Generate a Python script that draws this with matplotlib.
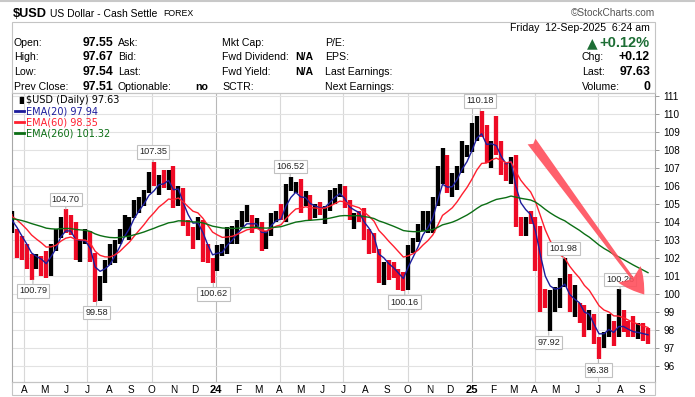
import numpy as np
import pandas as pd
import matplotlib
matplotlib.use("Agg")
import matplotlib.pyplot as plt
from matplotlib.patches import Rectangle

# weekly bars (week ending Friday)
week_end = pd.date_range("2023-03-17", "2025-09-12", freq="W-FRI")

high = [
    # 2023
    104.6, 103.6, 103.2, 102.8, 102.2, 102.2, 102.1, 102.4, 102.8, 103.6, 104.3, 104.70,
    104.4, 104.0, 103.0, 103.6, 103.5, 102.3, 101.0, 101.9, 102.8, 103.0, 103.6, 104.4,
    104.3, 105.2, 105.4, 105.8, 106.8, 107.35, 106.6, 106.9, 106.9, 107.1, 106.0, 105.9,
    104.1, 103.7, 104.3, 104.1, 102.8, 102.0,
    # 2024
    102.7, 102.8, 103.7, 103.8, 104.1, 104.6, 104.95, 104.4, 104.2, 104.0, 103.5, 104.5,
    104.6, 105.0, 106.1, 106.52, 106.2, 106.4, 105.7, 105.5, 105.0, 105.1, 104.9, 105.8,
    105.9, 106.1, 106.0, 105.2, 104.5, 104.6, 104.8, 103.6, 103.4, 102.5, 101.8, 101.9,
    101.8, 101.4, 101.2, 102.7, 103.1, 103.9, 104.6, 104.6, 105.4, 107.1, 108.1, 107.7,
    106.7, 107.1, 108.5, 108.3,
    # 2025
    109.5, 109.9, 110.18, 109.4, 108.5, 109.9, 108.5, 107.3, 107.6, 107.7, 104.3, 104.3,
    104.6, 104.3, 103.8, 100.3, 100.2, 100.4, 100.9, 101.98, 101.1, 100.5, 99.5, 99.4,
    99.1, 98.9, 97.6, 97.9, 98.9, 98.5, 100.26, 99.1, 98.5, 98.8, 98.4, 98.4, 98.1,
]
low = [
    # 2023
    103.4, 102.0, 101.9, 101.4, 100.79, 101.4, 101.0, 100.9, 101.0, 102.4, 103.1, 103.4,
    103.3, 101.9, 101.8, 102.8, 101.8, 99.58, 99.6, 100.6, 101.6, 101.7, 102.8, 103.2,
    103.0, 104.2, 104.5, 104.9, 105.6, 106.0, 105.5, 105.9, 105.8, 104.8, 104.9, 103.8,
    103.2, 102.5, 103.0, 101.8, 101.7, 100.62,
    # 2024
    101.3, 102.1, 102.2, 102.8, 102.8, 103.7, 104.0, 103.4, 103.6, 102.4, 102.5, 103.2,
    104.0, 104.1, 104.0, 105.7, 105.6, 104.5, 104.9, 104.1, 104.2, 104.4, 103.9, 104.6,
    105.0, 105.4, 104.8, 104.1, 103.6, 104.0, 103.0, 102.2, 102.3, 100.6, 100.5, 100.8,
    100.9, 100.2, 100.16, 100.2, 102.3, 102.9, 103.5, 103.4, 103.4, 104.9, 106.1, 105.6,
    105.4, 105.8, 106.7, 107.6,
    # 2025
    107.9, 108.5, 108.7, 107.3, 107.0, 107.7, 106.6, 106.3, 106.1, 103.7, 103.2, 103.2,
    103.9, 101.3, 99.0, 99.2, 97.92, 99.0, 99.2, 100.4, 99.0, 98.7, 98.4, 97.6,
    98.0, 97.2, 96.38, 97.0, 97.6, 97.1, 97.6, 97.9, 97.6, 97.6, 97.5, 97.4, 97.2,
]
close = [
    # 2023
    103.8, 103.1, 102.5, 102.1, 101.5, 101.8, 101.7, 101.3, 102.7, 103.2, 104.2, 104.0,
    103.5, 102.3, 102.9, 102.9, 101.9, 99.9, 100.9, 101.6, 102.0, 102.8, 103.4, 104.1,
    104.3, 105.1, 105.3, 105.6, 106.2, 106.1, 106.6, 106.2, 106.6, 105.0, 105.9, 103.9,
    103.4, 103.2, 104.0, 102.6, 101.7, 101.3,
    # 2024
    102.4, 102.4, 103.3, 103.4, 103.9, 104.1, 104.3, 103.9, 103.9, 102.7, 103.4, 104.4,
    104.5, 104.3, 106.0, 106.1, 106.1, 105.0, 105.3, 104.5, 104.7, 104.6, 104.9, 105.5,
    105.8, 105.9, 104.9, 104.1, 104.4, 104.3, 103.2, 103.1, 102.5, 100.7, 101.7, 101.2,
    101.1, 100.7, 100.4, 102.5, 102.9, 103.5, 104.3, 104.3, 105.0, 106.7, 107.5, 105.7,
    106.0, 107.0, 107.8, 108.0,
    # 2025
    108.9, 109.7, 109.3, 107.4, 108.4, 108.1, 106.7, 106.6, 107.6, 103.8, 103.7, 104.1,
    104.0, 102.1, 100.1, 99.2, 99.6, 100.0, 100.4, 100.9, 99.1, 99.3, 99.2, 98.2,
    98.7, 97.4, 97.0, 97.8, 98.4, 97.6, 98.7, 98.2, 97.8, 97.7, 97.8, 97.7, 97.63,
]

ema_periods = [20, 60, 260]
ema_start = [104.3, 104.4, 104.2]      # EMA levels at the left edge of the chart
ema_last = ["97.94", "98.35", "101.32"]
ema_colors = ["#1c1c9c", "#ff1f2f", "#0b6e14"]

# labelled highs / lows
label_dates = ["2023-04-14", "2023-05-31", "2023-07-14", "2023-10-03", "2023-12-28",
               "2024-04-16", "2024-09-27", "2025-01-13", "2025-04-21", "2025-05-12",
               "2025-07-01", "2025-08-01"]
label_values = [100.79, 104.70, 99.58, 107.35, 100.62, 106.52, 100.16, 110.18,
                97.92, 101.98, 96.38, 100.26]
label_above = [False, True, False, True, False, True, False, True, False, True, False, True]

# quote panel
quote_left = [("Open:", "97.55"), ("High:", "97.67"), ("Low:", "97.54"), ("Prev Close:", "97.51")]
quote_mid = ["Ask:", "Bid:", "Last:", "Optionable:"]
quote_fund = [("Mkt Cap:", ""), ("Fwd Dividend:", "N/A"), ("Fwd Yield:", "N/A"), ("SCTR:", "")]
quote_earn = ["P/E:", "EPS:", "Last Earnings:", "Next Earnings:"]
quote_right = [("Chg:", "+0.12"), ("Last:", "97.63"), ("Volume:", "0")]

W, H = 695, 397
fig = plt.figure(figsize=(W / 100, H / 100), dpi=100)
fig.patch.set_facecolor("white")
SANS = "Liberation Sans"


def txt(x, y, s, **kw):
    kw.setdefault("va", "center")
    kw.setdefault("family", SANS)
    kw.setdefault("fontsize", 7.6)
    return fig.text(x / W, 1 - y / H, s, **kw)


# header
fig.add_artist(plt.Line2D([0, 1], [1 - 1 / H, 1 - 1 / H], color="#c8c8c8", lw=1.5))
txt(13, 14, "$USD", fontsize=9.2, fontweight="bold")
txt(50, 14, "US Dollar - Cash Settle", fontsize=7.5)
txt(163, 14, "FOREX", fontsize=6.3)
txt(655, 13, "\u00a9StockCharts.com", fontsize=7.3, ha="right", color="#555555")

fig.add_artist(Rectangle((12 / W, 1 - 93 / H), 643 / W, 71 / H, transform=fig.transFigure,
                         fill=False, edgecolor="#c4c4c4", lw=0.8))
rows_y = [43, 57.5, 72, 86.5]
for i, y in enumerate(rows_y):
    txt(14, y, quote_left[i][0])
    txt(113, y, quote_left[i][1], ha="right", fontsize=8.8, fontweight="bold")
    txt(118, y, quote_mid[i])
    txt(222, y, quote_fund[i][0])
    if quote_fund[i][1]:
        txt(313, y, quote_fund[i][1], ha="right", fontweight="bold")
    txt(325, y, quote_earn[i])
txt(208, rows_y[3], "no", ha="right", fontweight="bold")
txt(650, 28, "Friday  12-Sep-2025  6:24 am", ha="right")
txt(598, 43, "\u25b2", ha="right", fontsize=10, color="#1d6e35", family="DejaVu Sans")
txt(650, 43, "+0.12%", ha="right", fontsize=10.5, fontweight="bold", color="#1d6e35")
for i, (lab, val) in enumerate(quote_right):
    txt(582, rows_y[i + 1], lab)
    txt(650, rows_y[i + 1], val, ha="right", fontsize=8.8, fontweight="bold")

# price panel
ax = fig.add_axes([12 / W, 1 - 382 / H, 643 / W, 289 / H])
x = week_end - pd.Timedelta(days=2)
close_arr = np.array(close)
prev = np.r_[close_arr[0], close_arr[:-1]]
bar_colors = np.where(close_arr >= prev, "black", "#ee0a25")
ax.vlines(x, low, high, colors=bar_colors, lw=3.1, zorder=3)

left_edge = pd.Timestamp("2023-03-15")
ema_x = x.insert(0, left_edge)
for period, start, col in zip(ema_periods, ema_start, ema_colors):
    a = 1 - (1 - 2 / (period + 1)) ** 5   # daily smoothing expressed per week
    ema = [start]
    for c in close:
        ema.append(ema[-1] + a * (c - ema[-1]))
    ax.plot(ema_x, ema, color=col, lw=1.0, zorder=4)

ax.set_xlim(left_edge, pd.Timestamp("2025-09-20"))
ax.set_ylim(95.11, 111.17)
ax.set_yticks(range(96, 112))
ax.yaxis.tick_right()
ax.tick_params(axis="y", length=3, width=0.6, color="#888888", pad=3, labelsize=7.2)
for t in ax.get_yticklabels():
    t.set_family(SANS)
ax.grid(axis="y", color="#e2e2e2", lw=0.8, zorder=0)

months = pd.date_range("2023-04-01", "2025-09-01", freq="MS")
ax.set_xticks(months)
ax.set_xticklabels([str(m.year)[2:] if m.month == 1 else m.strftime("%b")[0] for m in months])
ax.tick_params(axis="x", length=0, pad=2.5, labelsize=7.2)
for m, t in zip(months, ax.get_xticklabels()):
    t.set_family(SANS)
    if m.month == 1:
        t.set_fontweight("bold")
        t.set_fontsize(8)
    if m.month in (1, 4, 7, 10):
        ax.axvline(m, color="#b8b8b8" if m.month == 1 else "#d8d8d8", lw=0.8, zorder=0)

for s in ax.spines.values():
    s.set_color("#a8a8a8")
    s.set_linewidth(0.8)
fig.add_artist(Rectangle((12 / W, 1 - 395 / H), 643 / W, 13 / H, transform=fig.transFigure,
                         fill=False, edgecolor="#c4c4c4", lw=0.8))

# legend in the upper left
ax.text(0.006, 0.975, "\u2590\u258c", transform=ax.transAxes, fontsize=5, va="center")
ax.text(0.021, 0.975, f"$USD (Daily) {close[-1]:.2f}", transform=ax.transAxes,
        fontsize=7, va="center", family="DejaVu Sans")
for i, (period, last, col) in enumerate(zip(ema_periods, ema_last, ema_colors)):
    yy = 0.937 - i * 0.038
    ax.plot([0.004, 0.019], [yy, yy], color=col, lw=2, transform=ax.transAxes)
    ax.text(0.021, yy, f"EMA({period}) {last}", transform=ax.transAxes,
            fontsize=7, va="center", color=col, family="DejaVu Sans")

# high / low call-outs
for d, v, up in zip(label_dates, label_values, label_above):
    off = 10 if up else -11
    ax.annotate(f"{v:.2f}", xy=(pd.Timestamp(d), v), xytext=(0, off),
                textcoords="offset pixels", ha="center", va="center",
                fontsize=6.6, family=SANS, color="#222222", zorder=6,
                bbox=dict(boxstyle="square,pad=0.25", fc="white", ec="#c0c0c0", lw=0.8),
                arrowprops=dict(arrowstyle="-", color="#b0b0b0", lw=0.7, shrinkA=0, shrinkB=0))

# trend arrow
ax.annotate("", xy=(pd.Timestamp("2025-09-07"), 99.85), xytext=(pd.Timestamp("2025-03-25"), 108.6),
            arrowprops=dict(arrowstyle="fancy,head_length=0.9,head_width=1.0,tail_width=0.35",
                            mutation_scale=20, fc="#ff4f5c", ec="none", alpha=0.9),
            zorder=7)

fig.savefig("out.png", dpi=100)
